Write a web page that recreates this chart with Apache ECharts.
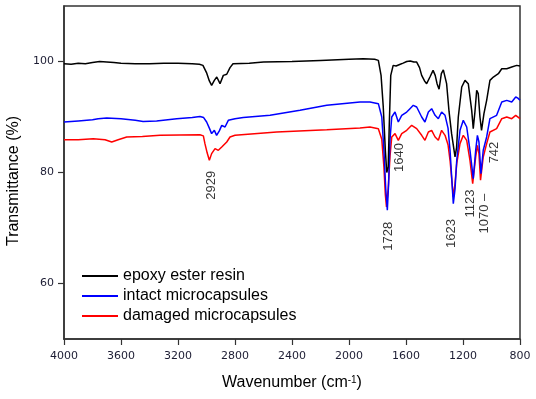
<!DOCTYPE html>
<html>
<head>
<meta charset="utf-8">
<script src="https://cdn.jsdelivr.net/npm/echarts@6/dist/echarts.min.js"></script>
<style>
  html, body { margin: 0; padding: 0; background: #fff; }
  #chart { width: 536px; height: 399px; }
</style>
</head>
<body>
<div id="chart"></div>
<script>
// FTIR spectra, [wavenumber (cm-1), transmittance (%)]
const epoxyData = [
  [4000, 99.6], [3950, 99.5], [3900, 99.7], [3850, 99.6], [3800, 99.8], [3750, 100.0],
  [3700, 99.9], [3650, 99.8], [3600, 99.7], [3500, 99.6], [3400, 99.6], [3300, 99.7],
  [3200, 99.7], [3100, 99.6], [3050, 99.5], [3025, 99.3], [3000, 98.0], [2980, 96.5],
  [2964, 95.7], [2945, 96.6], [2928, 97.2], [2905, 96.0], [2882, 97.5], [2858, 97.7],
  [2835, 98.9], [2814, 99.6], [2700, 99.7], [2600, 99.9], [2400, 100.0], [2200, 100.2],
  [2000, 100.4], [1900, 100.5], [1820, 100.4], [1794, 100.2], [1775, 97.5], [1760, 92.0],
  [1745, 84.0], [1735, 80.0], [1725, 81.0], [1718, 88.0], [1707, 97.5], [1690, 99.3],
  [1670, 99.2], [1656, 98.9], [1640, 99.5], [1620, 99.7], [1595, 100.0], [1570, 100.1],
  [1545, 99.9], [1525, 99.9], [1505, 98.9], [1490, 97.5], [1470, 96.5], [1455, 96.0],
  [1432, 97.2], [1410, 98.4], [1395, 97.5], [1382, 96.0], [1368, 95.0], [1352, 97.8],
  [1338, 98.5], [1315, 96.0], [1298, 91.0], [1280, 87.0], [1256, 82.8], [1245, 84.5],
  [1233, 90.0], [1209, 95.4], [1186, 96.6], [1163, 96.0], [1139, 91.2], [1128, 87.9],
  [1116, 91.0], [1104, 94.8], [1093, 94.2], [1081, 90.0], [1070, 87.6], [1053, 90.6],
  [1034, 93.0], [1011, 96.6], [987, 97.2], [952, 97.8], [928, 98.7], [893, 98.7],
  [858, 99.0], [823, 99.3], [800, 99.2]
];
const intactData = [
  [4000, 89.1], [3900, 89.3], [3800, 89.5], [3760, 89.7], [3747, 90.0], [3700, 89.8],
  [3600, 89.7], [3500, 89.4], [3445, 89.2], [3350, 89.3], [3209, 89.7], [3100, 89.9],
  [3046, 90.1], [3020, 89.9], [2999, 89.1], [2980, 88.0], [2964, 87.0], [2945, 87.6],
  [2929, 86.7], [2910, 87.5], [2893, 88.5], [2870, 88.2], [2847, 89.4], [2800, 89.7],
  [2742, 89.9], [2554, 90.3], [2344, 91.2], [2156, 92.1], [1923, 92.7], [1853, 92.7],
  [1794, 92.4], [1770, 90.0], [1755, 84.0], [1742, 77.0], [1731, 73.2], [1722, 78.0],
  [1712, 86.0], [1700, 90.0], [1677, 90.9], [1654, 89.1], [1630, 90.3], [1595, 90.9],
  [1572, 91.5], [1549, 92.1], [1525, 91.8], [1490, 90.0], [1467, 89.1], [1443, 90.9],
  [1420, 91.5], [1396, 90.3], [1373, 89.7], [1350, 90.9], [1326, 90.3], [1305, 88.0],
  [1291, 84.0], [1268, 74.4], [1256, 77.0], [1244, 82.2], [1221, 87.6], [1198, 89.4],
  [1174, 88.2], [1151, 84.0], [1128, 78.9], [1111, 84.0], [1099, 86.7], [1088, 85.5],
  [1074, 79.8], [1058, 84.0], [1034, 86.4], [1011, 89.7], [964, 90.3], [928, 92.7],
  [893, 93.0], [858, 92.7], [830, 93.6], [815, 93.4], [800, 93.0]
];
const damagedData = [
  [4000, 85.9], [3900, 85.9], [3795, 86.1], [3712, 85.9], [3665, 85.5], [3620, 85.9],
  [3560, 86.4], [3450, 86.5], [3326, 86.7], [3046, 86.8], [3022, 86.6], [3011, 85.2],
  [2995, 83.5], [2980, 82.2], [2964, 83.4], [2940, 84.3], [2917, 84.0], [2893, 84.6],
  [2858, 85.5], [2835, 86.4], [2800, 86.7], [2507, 87.3], [2156, 87.7], [1923, 88.0],
  [1853, 88.2], [1794, 87.9], [1770, 86.0], [1755, 81.0], [1745, 76.0], [1737, 73.8],
  [1725, 77.0], [1712, 83.0], [1700, 86.4], [1677, 87.0], [1654, 85.8], [1630, 87.0],
  [1595, 87.6], [1560, 88.5], [1525, 87.9], [1490, 86.7], [1467, 85.8], [1443, 87.3],
  [1420, 87.6], [1396, 86.4], [1373, 85.8], [1350, 87.6], [1326, 86.7], [1305, 85.0],
  [1291, 82.2], [1268, 75.6], [1256, 78.0], [1244, 81.6], [1221, 85.2], [1198, 86.7],
  [1174, 85.8], [1151, 82.2], [1132, 78.0], [1111, 82.8], [1099, 84.9], [1088, 83.4],
  [1077, 78.6], [1058, 82.8], [1034, 85.2], [1011, 87.3], [964, 87.9], [928, 89.7],
  [893, 90.0], [858, 89.7], [830, 90.3], [800, 89.7]
];
// peak labels: [wavenumber, transmittance, text]
const peakLabels = [
  [2968, 77.7, '2929'],
  [1724, 68.5, '1728'],
  [1647, 82.7, '1640'],
  [1279, 69.0, '1623'],
  [1151, 74.4, '1123'],
  [1050, 72.6, '1070 \u2013'],
  [976, 83.6, '742']
];
const seriesNames = ['epoxy ester resin', 'intact microcapsules', 'damaged microcapsules'];
const seriesColors = ['#000000', '#0000ff', '#ff0000'];
const yTicks = [60, 80, 100];

const chart = echarts.init(document.getElementById('chart'), null, { renderer: 'canvas' });

const lineSeries = [epoxyData, intactData, damagedData].map((d, i) => ({
  name: seriesNames[i],
  type: 'line',
  data: d,
  symbol: 'none',
  smooth: false,
  lineStyle: { color: seriesColors[i], width: 1.5 },
  itemStyle: { color: seriesColors[i] },
  z: 3 - i
}));

chart.setOption({
  animation: false,
  textStyle: { fontFamily: 'Liberation Sans, Arial, sans-serif' },
  grid: {
    left: 64, right: 16, top: 6, bottom: 60,
    show: true, borderColor: '#333', borderWidth: 1.5, backgroundColor: 'transparent'
  },
  legend: {
    orient: 'vertical',
    left: 77,
    top: 263,
    itemWidth: 36,
    itemHeight: 2,
    itemGap: 4,
    icon: 'rect',
    data: seriesNames,
    textStyle: { fontSize: 16, lineHeight: 16, color: '#000', fontFamily: 'Liberation Sans, Arial, sans-serif' }
  },
  xAxis: {
    type: 'value',
    inverse: true,
    min: 800,
    max: 4000,
    interval: 400,
    name: 'Wavenumber (cm{sup|-1})',
    nameLocation: 'middle',
    nameGap: 36,
    nameTextStyle: {
      fontSize: 16, color: '#000',
      rich: { sup: { fontSize: 10, verticalAlign: 'top', color: '#000' } }
    },
    axisLine: { show: true, lineStyle: { color: '#333', width: 1.5 } },
    axisTick: { show: true, inside: false, length: 6, lineStyle: { color: '#333', width: 1.2 } },
    axisLabel: {
      margin: 12, fontSize: 11, color: '#1c1c33', fontFamily: 'DejaVu Sans',
      formatter: v => String(v)
    },
    splitLine: { show: false }
  },
  yAxis: {
    type: 'value',
    min: 50,
    max: 110,
    axisLine: { show: true, lineStyle: { color: '#333', width: 1.5 } },
    axisTick: { show: true, inside: false, length: 6, customValues: yTicks, lineStyle: { color: '#333', width: 1.2 } },
    axisLabel: { margin: 10, fontSize: 11, color: '#1c1c33', fontFamily: 'DejaVu Sans', customValues: yTicks },
    splitLine: { show: false }
  },
  graphic: [{
    type: 'text',
    x: 14,
    y: 181,
    rotation: Math.PI / 2,
    style: {
      text: 'Transmittance (%)',
      fontSize: 16,
      fontFamily: 'Liberation Sans, Arial, sans-serif',
      fill: '#000',
      align: 'center',
      verticalAlign: 'middle'
    }
  }],
  series: lineSeries.concat([{
    type: 'scatter',
    data: peakLabels,
    symbolSize: 0,
    silent: true,
    z: 5,
    label: {
      show: true,
      position: 'inside',
      rotate: 90,
      fontSize: 13,
      color: '#000',
      fontFamily: 'Liberation Sans, Arial, sans-serif',
      formatter: p => p.data[2]
    }
  }])
});
</script>
</body>
</html>
